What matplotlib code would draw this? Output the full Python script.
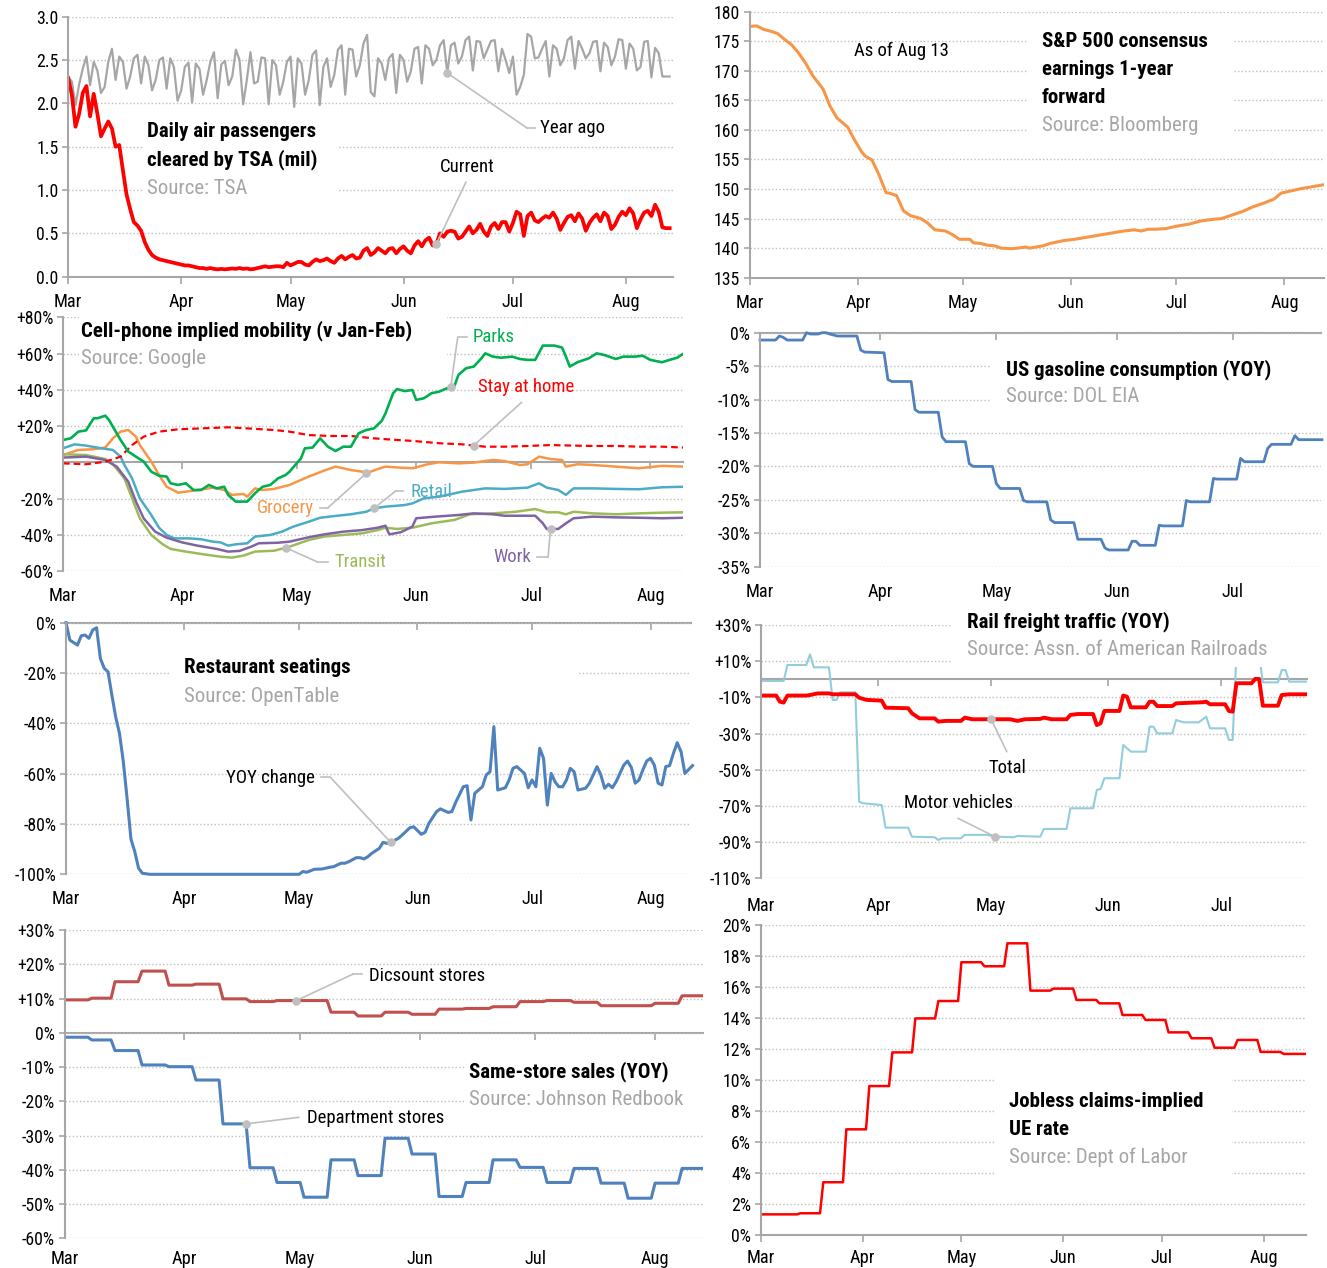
import matplotlib
matplotlib.use("Agg")
import matplotlib.pyplot as plt
import numpy as np
from matplotlib import font_manager as fm
from matplotlib.patches import Rectangle
from matplotlib.lines import Line2D

# ---------------- data (x = days since Mar 1) ----------------
MONTHS = ["Mar", "Apr", "May", "Jun", "Jul", "Aug"]
MONTH_START = [0, 31, 61, 92, 122, 153]

# TSA daily passengers (mil), Mar 1 .. Aug 13
tsa_current = [
    2.29, 2.10, 1.73, 1.88, 2.12, 2.20, 1.85, 2.11, 1.88, 1.62,
    1.71, 1.79, 1.71, 1.50, 1.52, 1.23, 0.95, 0.78, 0.63, 0.59,
    0.53, 0.40, 0.31, 0.25, 0.22, 0.20, 0.19, 0.18, 0.17, 0.16,
    0.15, 0.14, 0.13, 0.13, 0.12, 0.11, 0.10, 0.10, 0.09, 0.10,
    0.09, 0.085, 0.09, 0.085, 0.09, 0.095, 0.09, 0.10, 0.09, 0.095,
    0.085, 0.09, 0.10, 0.11, 0.12, 0.11, 0.115, 0.12, 0.12, 0.11,
    0.16, 0.13, 0.15, 0.17, 0.17, 0.14, 0.13, 0.17, 0.20, 0.18,
    0.19, 0.21, 0.18, 0.16, 0.21, 0.24, 0.20, 0.23, 0.25, 0.21,
    0.22, 0.30, 0.33, 0.25, 0.28, 0.33, 0.30, 0.27, 0.32, 0.33,
    0.27, 0.32, 0.35, 0.30, 0.27, 0.36, 0.41, 0.35, 0.42, 0.45,
    0.36, 0.38, 0.50, 0.46, 0.52, 0.53, 0.52, 0.44, 0.46, 0.52,
    0.58, 0.50, 0.54, 0.61, 0.52, 0.47, 0.58, 0.62, 0.55, 0.63,
    0.63, 0.52, 0.62, 0.75, 0.72, 0.47, 0.70, 0.74, 0.65, 0.63,
    0.67, 0.70, 0.68, 0.74, 0.67, 0.54, 0.62, 0.69, 0.71, 0.64,
    0.73, 0.67, 0.53, 0.62, 0.68, 0.72, 0.64, 0.74, 0.70, 0.55,
    0.60, 0.69, 0.75, 0.71, 0.79, 0.73, 0.56, 0.66, 0.74, 0.76,
    0.70, 0.83, 0.75, 0.57, 0.56, 0.56,
]
tsa_year_ago = [
    2.31, 2.25, 1.98, 2.22, 2.40, 2.54, 2.21, 2.48, 2.38, 2.12,
    2.19, 2.48, 2.63, 2.27, 2.54, 2.48, 2.17, 2.31, 2.52, 2.56,
    2.23, 2.54, 2.44, 2.15, 2.27, 2.50, 2.53, 2.17, 2.52, 2.42,
    2.03, 2.15, 2.42, 2.47, 2.01, 2.46, 2.40, 2.10, 2.27, 2.48,
    2.59, 2.06, 2.45, 2.49, 2.21, 2.31, 2.62, 2.50, 1.99, 2.27,
    2.59, 2.23, 2.25, 2.53, 2.52, 1.99, 2.50, 2.44, 2.10, 2.25,
    2.48, 2.54, 1.96, 2.52, 2.46, 2.10, 2.27, 2.56, 2.61, 1.98,
    2.42, 2.52, 2.19, 2.33, 2.62, 2.67, 2.10, 2.63, 2.62, 2.31,
    2.44, 2.69, 2.79, 2.13, 2.08, 2.52, 2.46, 2.27, 2.52, 2.57,
    2.12, 2.56, 2.50, 2.25, 2.37, 2.63, 2.65, 2.23, 2.67, 2.63,
    2.44, 2.50, 2.67, 2.73, 2.35, 2.67, 2.70, 2.46, 2.54, 2.73,
    2.77, 2.38, 2.72, 2.71, 2.52, 2.62, 2.72, 2.73, 2.37, 2.63,
    2.50, 2.35, 2.54, 2.10, 2.19, 2.33, 2.80, 2.77, 2.52, 2.53,
    2.63, 2.72, 2.31, 2.67, 2.63, 2.44, 2.52, 2.73, 2.77, 2.40,
    2.72, 2.63, 2.52, 2.58, 2.71, 2.72, 2.37, 2.70, 2.65, 2.44,
    2.54, 2.74, 2.73, 2.40, 2.69, 2.63, 2.38, 2.42, 2.71, 2.72,
    2.30, 2.64, 2.58, 2.31, 2.31, 2.31,
]
tsa_days = list(range(len(tsa_current)))

# S&P 500 consensus forward EPS
sp_days = [0, 2, 4, 6, 8, 10, 12, 14, 16, 18, 21, 23, 25, 28, 30, 32, 33, 35, 37, 39,
           40, 42, 44, 46, 49, 51, 53, 56, 58, 60, 63, 64, 66, 68, 70, 72, 75, 78, 79, 80,
           84, 86, 90, 93, 96, 98, 100, 104, 107, 110, 112, 114, 116, 119, 122, 126, 129,
           133, 135, 138, 141, 144, 147, 150, 152, 155, 158, 161, 164]
sp_eps = [177.5, 177.6, 177.0, 176.7, 176.3, 175.3, 174.4, 173.0, 171.3, 169.2,
          166.9, 164.0, 162.0, 160.5, 158.3, 156.3, 155.6, 154.9, 152.4, 149.4,
          149.3, 148.9, 146.3, 145.5, 145.0, 144.2, 143.1, 142.9, 142.3, 141.5,
          141.5, 140.9, 140.8, 140.5, 140.4, 140.0, 139.9, 140.1, 140.2, 140.0,
          140.4, 140.8, 141.3, 141.5, 141.8, 142.0, 142.2, 142.6, 142.9, 143.1,
          142.9, 143.2, 143.2, 143.3, 143.7, 144.1, 144.6, 144.9, 145.0, 145.6,
          146.2, 147.0, 147.6, 148.3, 149.3, 149.7, 150.1, 150.4, 150.7]

# Google mobility (% vs Jan-Feb)
parks_days = [0, 2, 4, 6, 8, 9, 11, 12, 15, 17, 19, 21, 23, 25, 27, 28, 30, 32, 34, 36,
              38, 40, 42, 43, 45, 48, 50, 52, 54, 56, 58, 59, 62, 63, 65, 67, 69, 71, 73, 75,
              77, 79, 81, 83, 84, 86, 87, 89, 91, 92, 94, 96, 98, 100, 102, 103, 105, 107, 109, 110,
              112, 114, 117, 119, 121, 123, 125, 128, 130, 131, 132, 134, 137, 139, 141, 144, 146, 149, 151, 153,
              156, 158, 160, 162]
parks = [12.3, 13.2, 16.9, 17.6, 24.3, 24.3, 25.7, 23.3, 12.3, 5.9, 3.1, 0.4, -5.2, -7.4, -7.9, -11.6, -12.5, -11.6, -15.3, -15.3,
         -12.5, -14.4, -13.5, -18.0, -21.7, -21.7, -17.1, -13.5, -12.5, -8.9, -7.0, -5.2, 2.2, 7.7, 8.1, 13.2, 8.6, 6.2, 8.6, 8.6,
         16.0, 17.8, 18.7, 22.8, 27.0, 38.1, 40.4, 39.3, 39.9, 34.4, 35.3, 38.1, 39.0, 40.8, 42.3, 48.2, 51.9, 52.8, 57.4, 60.1,
         58.3, 57.7, 58.3, 57.0, 56.5, 56.5, 64.4, 64.4, 63.3, 58.3, 52.8, 55.2, 57.4, 60.1, 59.2, 57.0, 58.3, 58.3, 58.8, 56.5,
         55.2, 56.5, 57.7, 60.5]
stay_days = [0, 6, 11, 15, 18, 21, 25, 30, 36, 43, 48, 55, 59, 64, 70, 75, 81, 87, 91, 98,
             104, 110, 115, 121, 127, 133, 138, 144, 150, 156, 162]
stay_home = [-0.6, -1.1, 0.3, 3.1, 9.5, 14.1, 16.9, 18.2, 18.7, 19.3, 18.7, 17.8, 16.9, 15.0, 14.5, 14.5,
             13.2, 12.3, 11.8, 10.5, 9.9, 8.6, 8.6, 9.0, 9.5, 9.2, 9.0, 9.0, 8.6, 8.6, 8.1]
grocery_days = [0, 4, 8, 11, 13, 15, 17, 19, 20, 23, 25, 27, 30, 32, 35, 39, 42, 44, 47, 48,
                50, 52, 55, 59, 64, 68, 71, 73, 75, 78, 79, 82, 84, 88, 91, 95, 98, 103, 107, 112,
                115, 119, 121, 124, 127, 130, 131, 134, 138, 144, 150, 156, 162]
grocery = [4.0, 6.8, 7.2, 8.1, 13.2, 16.9, 17.8, 14.1, 9.5, 0.4, -7.0, -13.5, -16.8, -16.2, -15.3, -14.0, -15.3, -18.0, -17.5, -19.0,
           -14.4, -15.3, -14.7, -12.5, -7.9, -4.6, -2.4, -3.3, -4.3, -5.2, -6.1, -3.7, -2.4, -3.0, -3.3, -1.1, 0.0, -0.6, -0.2, 1.3,
           0.7, -1.5, -1.1, 3.1, 1.8, 1.3, -2.4, -1.1, -1.5, -2.4, -3.3, -2.0, -2.4]
retail_days = [0, 3, 6, 10, 13, 15, 16, 18, 20, 23, 25, 27, 29, 33, 36, 39, 41, 43, 45, 48,
               50, 54, 57, 60, 64, 67, 71, 75, 79, 81, 84, 89, 91, 94, 98, 104, 110, 115, 121, 124,
               126, 129, 131, 133, 138, 144, 150, 156, 162]
retail = [7.7, 9.9, 9.2, 7.7, 6.8, 3.1, -1.5, -8.9, -19.9, -29.1, -36.1, -40.1, -42.0, -42.0, -42.5, -43.8, -44.2, -46.0, -45.3, -44.7,
          -41.0, -40.1, -38.3, -35.5, -32.8, -30.6, -29.6, -28.7, -27.3, -25.4, -24.5, -23.6, -22.7, -19.9, -19.0, -16.2, -14.4, -14.7, -14.0, -11.6,
          -14.0, -15.3, -18.0, -14.4, -14.4, -14.7, -14.9, -13.8, -13.5]
transit_days = [0, 6, 11, 13, 16, 18, 20, 23, 26, 28, 32, 36, 41, 44, 47, 50, 55, 59, 64, 68,
                73, 78, 82, 84, 87, 91, 96, 102, 106, 112, 118, 123, 126, 129, 131, 133, 138, 144, 150, 156, 162]
transit = [4.4, 4.0, 1.8, -1.1, -8.9, -19.9, -30.9, -40.1, -45.3, -47.8, -49.3, -50.6, -52.1, -52.6, -51.5, -49.3, -48.8, -46.6, -42.9, -41.0,
           -40.1, -39.2, -37.4, -36.1, -36.8, -36.1, -33.7, -31.8, -28.7, -28.2, -27.3, -25.8, -27.6, -27.6, -28.7, -27.3, -28.2, -28.7, -28.2, -27.8, -27.6]
work_days = [0, 6, 11, 14, 17, 19, 21, 24, 27, 31, 35, 40, 43, 46, 49, 51, 56, 59, 64, 68,
             73, 78, 82, 84, 85, 88, 91, 92, 97, 103, 107, 112, 115, 120, 123, 125, 126, 129, 131, 133,
             138, 144, 150, 156, 162]
work = [2.6, 3.1, 1.3, -2.4, -10.7, -21.7, -30.9, -38.3, -41.6, -44.2, -46.0, -47.8, -49.3, -48.9, -46.6, -44.7, -44.4, -43.8, -41.4, -39.8,
        -38.3, -37.4, -36.1, -35.0, -39.8, -38.6, -35.5, -30.9, -30.0, -29.1, -28.2, -28.7, -29.5, -29.5, -29.5, -33.7, -36.8, -36.8, -33.7, -30.9,
        -30.0, -30.4, -30.6, -30.9, -30.6]

# US gasoline consumption YOY %
gas_days = [0, 4, 5, 6, 7, 11, 12, 13, 15, 16, 17, 18, 20, 25, 26, 27, 32, 33, 34, 39,
            40, 41, 46, 47, 48, 53, 54, 55, 60, 61, 62, 67, 68, 69, 74, 75, 76, 81, 82, 88,
            89, 90, 95, 96, 97, 98, 102, 103, 104, 109, 110, 111, 116, 117, 118, 123, 124, 125, 130, 131,
            132, 137, 138, 139, 145]
gas_yoy = [-1.1, -1.1, -0.5, -0.7, -1.1, -1.1, 0.0, -0.2, -0.2, 0.0, 0.0, -0.2, -0.5, -0.5, -2.6, -2.9, -3.0, -7.0, -7.3, -7.3,
           -11.5, -11.9, -11.9, -15.6, -16.3, -16.3, -19.6, -20.0, -20.0, -22.6, -23.3, -23.3, -25.1, -25.3, -25.3, -28.0, -28.4, -28.4, -30.9, -30.9,
           -32.2, -32.5, -32.5, -31.2, -31.2, -31.8, -31.8, -28.8, -28.9, -28.9, -25.1, -25.3, -25.3, -21.8, -21.9, -21.9, -18.8, -19.3, -19.3, -17.3,
           -16.7, -16.7, -15.4, -16.0, -16.0]

# OpenTable restaurant seatings YOY %
rest_days = [0, 1, 3, 4, 5, 6, 7, 8, 9, 10, 11, 12, 13, 14, 15, 16, 17, 18, 19, 20,
             22, 61, 62, 63, 65, 67, 69, 70, 72, 73, 74, 76, 77, 78, 79, 80, 82, 83, 84, 85,
             87, 88, 90, 91, 93, 94, 95, 97, 98, 100, 101, 102, 104, 105, 106, 107, 108, 109, 110, 111,
             112, 113, 115, 116, 117, 118, 120, 121, 122, 123, 124, 125, 126, 127, 128, 129, 130, 131, 132, 133,
             134, 136, 137, 139, 140, 141, 142, 143, 144, 146, 147, 148, 149, 150, 151, 152, 153, 154, 155, 156,
             157, 158, 159, 160, 161, 162, 164]
rest_yoy = [0.0, -6.9, -8.9, -5.2, -4.9, -6.2, -2.9, -2.0, -14.2, -18.1, -19.5, -28.7, -37.4, -44.0, -55.2, -70.0, -86.0, -91.0, -97.6, -99.6,
            -100.0, -100.0, -98.9, -99.2, -98.0, -97.9, -97.2, -97.0, -95.6, -95.6, -95.0, -93.4, -93.4, -93.9, -93.0, -91.7, -89.7, -87.3, -87.7, -87.3,
            -85.7, -84.4, -81.5, -81.1, -84.1, -83.3, -79.7, -75.1, -74.0, -75.4, -75.1, -71.4, -65.2, -64.8, -78.4, -67.8, -66.5, -65.2, -60.5, -59.2,
            -41.3, -66.5, -65.6, -62.5, -57.9, -57.2, -59.9, -65.6, -62.5, -65.2, -49.9, -53.9, -72.5, -59.9, -63.2, -65.2, -65.2, -62.5, -57.9, -59.2,
            -66.5, -65.8, -63.8, -57.2, -60.5, -65.8, -64.2, -65.6, -63.2, -56.6, -55.0, -57.6, -63.8, -62.5, -58.5, -55.0, -53.9, -56.6, -63.8, -64.5,
            -57.2, -56.8, -51.9, -47.7, -51.3, -59.9, -56.8]

# Rail freight YOY %
rail_total_days = [0, 4, 5, 6, 7, 12, 13, 15, 18, 19, 25, 26, 28, 32, 33, 39, 40, 42, 46, 47,
                   49, 53, 54, 56, 66, 68, 70, 74, 75, 77, 81, 82, 84, 88, 89, 90, 91, 95, 96, 97,
                   98, 102, 103, 104, 105, 109, 110, 117, 118, 119, 123, 124, 125, 126, 130, 131, 132, 133, 137, 138,
                   140, 145]
rail_total = [-9.0, -9.0, -12.4, -12.9, -9.0, -9.0, -8.7, -7.8, -7.8, -8.3, -8.3, -10.2, -11.4, -11.8, -15.7, -16.0, -18.8, -21.6, -21.6, -23.4,
              -23.0, -23.0, -21.2, -22.1, -22.1, -23.0, -22.1, -21.9, -21.2, -22.1, -22.1, -19.7, -19.2, -19.2, -25.3, -24.3, -17.5, -17.5, -9.0, -9.6,
              -15.5, -15.5, -12.4, -12.4, -14.8, -14.8, -13.3, -12.7, -12.4, -13.8, -13.8, -17.5, -17.9, -2.2, -2.2, 0.2, 0.2, -14.6, -14.6, -8.7,
              -8.3, -8.3]
rail_motor_days = [0, 6, 7, 12, 13, 14, 18, 19, 20, 21, 25, 26, 27, 32, 33, 39, 40, 46, 47, 48,
                   53, 54, 60, 62, 67, 68, 74, 75, 81, 82, 88, 89, 90, 91, 95, 96, 98, 102, 103, 104,
                   105, 109, 110, 112, 116, 118, 119, 123, 124, 125, 126, 132, 133, 137, 138, 139, 140, 145]
rail_motor = [-0.9, -0.9, 7.9, 7.9, 13.8, 6.6, 6.6, -11.4, -11.4, -7.2, -7.2, -67.6, -68.5, -69.5, -82.0, -82.0, -87.0, -87.3, -88.8, -87.9,
              -87.9, -86.0, -86.0, -87.0, -87.3, -86.6, -87.0, -82.7, -82.7, -71.3, -71.3, -61.2, -60.6, -54.7, -54.7, -36.3, -40.0, -40.0, -26.2, -26.2,
              -29.9, -29.9, -22.5, -23.8, -23.8, -20.7, -27.1, -27.1, -33.5, -33.5, 14.0, 14.0, -1.7, -1.7, 5.1, 5.1, -1.3, -1.3]

# Johnson Redbook same-store sales YOY %
disc_days = [0, 6, 7, 12, 13, 19, 20, 26, 27, 33, 34, 40, 41, 47, 48, 54, 55, 68, 69, 75, 76, 82,
             83, 89, 90, 96, 97, 103, 104, 110, 111, 117, 118, 124, 125, 131, 132, 138, 139, 152, 153, 159, 160, 166]
discount = [9.6, 9.6, 10.1, 10.1, 14.9, 14.9, 18.0, 18.0, 13.9, 13.9, 14.2, 14.2, 9.9, 9.9, 9.1, 9.1, 9.4, 9.4, 6.0, 6.0, 4.9, 4.9,
            6.0, 6.0, 5.4, 5.4, 6.9, 6.9, 7.1, 7.1, 7.6, 7.6, 9.1, 9.1, 9.4, 9.4, 8.9, 8.9, 7.9, 7.9, 8.6, 8.6, 10.8, 10.8]
dept_days = [0, 6, 7, 12, 13, 19, 20, 26, 27, 33, 34, 40, 41, 47, 48, 54, 55, 61, 62, 68, 69, 75, 76, 82,
             83, 89, 90, 96, 97, 103, 104, 110, 111, 117, 118, 124, 125, 131, 132, 138, 139, 145, 146, 152, 153, 159, 160, 166]
department = [-1.3, -1.3, -2.1, -2.1, -5.2, -5.2, -9.4, -9.4, -9.9, -9.9, -13.8, -13.8, -26.6, -26.6, -39.4, -39.4, -43.7, -43.7,
              -48.0, -48.0, -37.1, -37.1, -41.7, -41.7, -30.8, -30.8, -35.4, -35.4, -47.8, -47.8, -43.7, -43.7, -37.1, -37.1,
              -39.3, -39.3, -43.7, -43.7, -39.6, -39.6, -43.9, -43.9, -48.3, -48.3, -43.9, -43.9, -39.6, -39.6]

# Jobless claims-implied UE rate %
ue_days = [0, 11, 12, 18, 19, 25, 26, 32, 33, 39, 40, 46, 47, 53, 54, 60, 61, 67, 68, 74, 75, 81, 82,
           88, 89, 95, 96, 102, 103, 109, 110, 116, 117, 123, 124, 130, 131, 137, 138, 144, 145, 151, 152, 158, 159, 166]
ue_rate = [1.35, 1.35, 1.42, 1.42, 3.42, 3.42, 6.83, 6.83, 9.62, 9.62, 11.79, 11.79, 13.98, 13.98, 15.10, 15.10, 17.60, 17.60,
           17.34, 17.34, 18.82, 18.82, 15.77, 15.77, 15.90, 15.90, 15.17, 15.17, 14.95, 14.95, 14.20, 14.20, 13.88, 13.88,
           13.08, 13.08, 12.70, 12.70, 12.09, 12.09, 12.59, 12.59, 11.82, 11.82, 11.69, 11.69]

# ---------------- style ----------------
names = {f.name for f in fm.fontManager.ttflist}
files = " ".join(f.fname for f in fm.fontManager.ttflist)
STRETCH = "normal"
SCALE = 1.0
if "Roboto Condensed" in names:
    FAMILY = "Roboto Condensed"
elif "Liberation Sans Narrow" in names:
    FAMILY = "Liberation Sans Narrow"
elif "Open Sans Condensed" in names:
    FAMILY = "Open Sans Condensed"
elif "DejaVuSansCondensed" in files:
    FAMILY, STRETCH, SCALE = "DejaVu Sans", "condensed", 0.85
else:
    FAMILY, SCALE = "DejaVu Sans", 0.78
plt.rcParams["font.family"] = [FAMILY, "DejaVu Sans"]
plt.rcParams["font.stretch"] = STRETCH

RED = "#FF0000"
GREY_LINE = "#A6A6A6"
ORANGE = "#F79646"
GREEN = "#00B050"
TEAL = "#4BACC6"
OLIVE = "#9BBB59"
PURPLE = "#8064A2"
BLUE = "#4F81BD"
LIGHTBLUE = "#92CDDC"
BRICK = "#C0504D"
SRC = "#A6A6A6"
AXC = "#A6A6A6"
GRID = "#BFBFBF"
LEAD = "#BFBFBF"

FS_TITLE = 15 * SCALE
FS_TICK = 12.8 * SCALE
FS_MONTH = 13.2 * SCALE
FS_LABEL = 13.5 * SCALE

W, H = 1327, 1268
fig = plt.figure(figsize=(W / 100, H / 100), dpi=100)


def fp(x, y):
    return x / W, 1 - y / H


def panel(left, right, top, bottom, xmax, ylim, yticks, ylabels, base=0, mpad=11.5):
    ax = fig.add_axes([left / W, 1 - bottom / H, (right - left) / W, (bottom - top) / H])
    ax.set_xlim(0, xmax)
    ax.set_ylim(*ylim)
    ax.set_yticks(yticks, ylabels)
    mt = [d for d in MONTH_START if d <= xmax]
    ax.set_xticks(mt, MONTHS[:len(mt)])
    ax.tick_params(axis="x", length=0, pad=mpad, labelsize=FS_MONTH)
    ax.tick_params(axis="y", length=4, width=1.2, color=AXC, labelsize=FS_TICK, pad=3)
    for s in ["top", "right", "bottom"]:
        ax.spines[s].set_visible(False)
    ax.spines["left"].set_color(AXC)
    ax.spines["left"].set_linewidth(1.5)
    ax.grid(axis="y", linestyle=(0, (1, 1.6)), color=GRID, lw=1)
    ax.set_axisbelow(True)
    frac = (base - ylim[0]) / (ylim[1] - ylim[0])
    sec = ax.secondary_xaxis(frac)
    sec.set_alignment("bottom")
    sec.set_xticks(mt)
    sec.tick_params(axis="x", length=5, width=1.2, color=AXC, labelbottom=False, labeltop=False)
    sec.spines["bottom"].set_color(AXC)
    sec.spines["bottom"].set_linewidth(1.5)
    return ax


def box(ax, x0, y0, x1, y1):
    ax.add_patch(Rectangle((x0 / W, 1 - y1 / H), (x1 - x0) / W, (y1 - y0) / H,
                           transform=fig.transFigure, facecolor="white", edgecolor="none", zorder=2.5))


def title(ax, x, y0, lines, source, step=28):
    for i, s in enumerate(lines):
        ax.text(*fp(x, y0 + i * step), s, transform=fig.transFigure, fontsize=FS_TITLE,
                fontweight="bold", va="baseline", ha="left", zorder=3)
    ax.text(*fp(x, y0 + len(lines) * step), source, transform=fig.transFigure, fontsize=FS_TITLE,
            color=SRC, va="baseline", ha="left", zorder=3)


def label(ax, x, y, s, color="black", ha="left"):
    ax.text(*fp(x, y), s, transform=fig.transFigure, fontsize=FS_LABEL, color=color,
            ha=ha, va="center", zorder=3)


def leader(ax, day, days, vals, pts):
    val = float(np.interp(day, days, vals))
    ax.annotate("", xy=(day, val), xycoords="data", xytext=fp(*pts[0]), textcoords="figure fraction",
                arrowprops=dict(arrowstyle="-", color=LEAD, lw=1.2, shrinkA=0, shrinkB=0), zorder=4)
    if len(pts) > 1:
        ax.add_line(Line2D([p[0] / W for p in pts], [1 - p[1] / H for p in pts], transform=fig.transFigure,
                           color=LEAD, lw=1.2, clip_on=False, zorder=4))
    ax.scatter([day], [val], s=38, color=LEAD, zorder=5, clip_on=False, linewidths=0)


def pct(v, plus=False):
    return ("+" if plus and v > 0 else "") + f"{v}%"


# ---- 1. TSA ----
tsa_ticks = [0, 0.5, 1.0, 1.5, 2.0, 2.5, 3.0]
ax = panel(68.2, 673.3, 16.7, 276.7, 166, (0, 3), tsa_ticks, [f"{t:.1f}" for t in tsa_ticks])
ax.plot(tsa_days, tsa_year_ago, color=GREY_LINE, lw=1.6)
ax.plot(tsa_days, tsa_current, color=RED, lw=2.7)
box(ax, 143, 108, 339, 200)
title(ax, 147, 137, ["Daily air passengers", "cleared by TSA (mil)"], "Source: TSA", step=28.3)
leader(ax, 104, tsa_days, tsa_year_ago, [(527, 128), (535, 128)])
label(ax, 540, 128, "Year ago")
leader(ax, 101, tsa_days, tsa_current, [(466, 182)])
label(ax, 467, 167, "Current", ha="center")

# ---- 2. S&P 500 ----
sp_ticks = list(range(135, 181, 5))
ax = panel(749.7, 1323.6, 11.7, 277.7, 164.2, (135, 180), sp_ticks, [str(t) for t in sp_ticks], base=135)
ax.plot(sp_days, sp_eps, color=ORANGE, lw=2.2)
box(ax, 1028, 18, 1234, 145)
title(ax, 1042, 47.3, ["S&P 500 consensus", "earnings 1-year", "forward"], "Source: Bloomberg", step=27.9)
ax.text(*fp(854.5, 55.7), "As of Aug 13", transform=fig.transFigure, fontsize=FS_LABEL, va="baseline")

# ---- 3. Mobility ----
mob_ticks = [80, 60, 40, 20, -20, -40, -60]
ax = panel(63, 683, 317.3, 571, 161.5, (-60, 80), mob_ticks, [pct(t, True) for t in mob_ticks])
ax.plot(grocery_days, grocery, color=ORANGE, lw=1.8)
ax.plot(retail_days, retail, color=TEAL, lw=1.8)
ax.plot(transit_days, transit, color=OLIVE, lw=1.8)
ax.plot(work_days, work, color=PURPLE, lw=1.8)
ax.plot(stay_days, stay_home, color=RED, lw=1.6, linestyle=(0, (3, 1.8)))
ax.plot(parks_days, parks, color=GREEN, lw=1.9)
box(ax, 79, 311, 447, 372)
title(ax, 81.4, 336.7, ["Cell-phone implied mobility (v Jan-Feb)"], "Source: Google", step=27.6)
leader(ax, 101, parks_days, parks, [(457.7, 337.3), (466.5, 337.3)])
label(ax, 473, 337.3, "Parks", GREEN)
leader(ax, 107, stay_days, stay_home, [(521.6, 402.3)])
label(ax, 477.5, 386.7, "Stay at home", RED)
leader(ax, 79, grocery_days, grocery, [(327.9, 507.7), (320.4, 507.7)])
label(ax, 314, 508.3, "Grocery", ORANGE, ha="right")
leader(ax, 81, retail_days, retail, [(396, 490.7), (402.7, 490.7)])
label(ax, 410, 491.7, "Retail", TEAL)
leader(ax, 58, transit_days, transit, [(316.9, 561.7), (327.9, 561.7)])
label(ax, 334.5, 561.7, "Transit", OLIVE)
leader(ax, 127, work_days, work, [(548, 557.3), (537, 557.3)])
label(ax, 531, 557.3, "Work", PURPLE, ha="right")

# ---- 4. Gasoline ----
gas_ticks = [0, -5, -10, -15, -20, -25, -30, -35]
ax = panel(760, 1320.8, 332.7, 566.7, 144.7, (-35, 0), gas_ticks, [pct(t) for t in gas_ticks])
ax.plot(gas_days, gas_yoy, color=BLUE, lw=2.0, clip_on=False)
box(ax, 990, 345, 1321, 412)
title(ax, 1006, 375, ["US gasoline consumption (YOY)"], "Source: DOL EIA", step=27.3)

# ---- 5. Restaurants ----
rest_ticks = [0, -20, -40, -60, -80, -100]
ax = panel(66, 691, 622.7, 874.3, 163.6, (-100, 0), rest_ticks, [pct(t) for t in rest_ticks])
ax.plot(rest_days, rest_yoy, color=BLUE, lw=2.2, clip_on=False)
box(ax, 170, 648, 579, 712)
title(ax, 184.4, 673.3, ["Restaurant seatings"], "Source: OpenTable", step=28.4)
leader(ax, 85, rest_days, rest_yoy, [(330.4, 777.3), (321.4, 777.3)])
label(ax, 315, 778.3, "YOY change", ha="right")

# ---- 6. Rail ----
rail_ticks = [30, 10, -10, -30, -50, -70, -90, -110]
ax = panel(761, 1306.6, 625, 878.3, 144.6, (-110, 30), rail_ticks, [pct(t, True) for t in rail_ticks], mpad=13.5)
ax.plot(rail_motor_days, rail_motor, color=LIGHTBLUE, lw=1.5)
ax.plot(rail_total_days, rail_total, color=RED, lw=2.8)
box(ax, 952, 600, 1307, 667)
title(ax, 967.4, 627.7, ["Rail freight traffic (YOY)"], "Source: Assn. of American Railroads", step=27.3)
leader(ax, 61, rail_total_days, rail_total, [(1006.8, 751.7)])
label(ax, 1007.6, 767.7, "Total", ha="center")
leader(ax, 62, rail_motor_days, rail_motor, [(958, 818.3)])
label(ax, 958, 803.3, "Motor vehicles", ha="center")

# ---- 7. Same-store sales ----
ss_ticks = [30, 20, 10, 0, -10, -20, -30, -40, -50, -60]
ax = panel(64.8, 703.3, 930, 1238.3, 165.5, (-60, 30), ss_ticks, [pct(t, True) for t in ss_ticks], mpad=8.5)
ax.plot(disc_days, discount, color=BRICK, lw=2.2)
ax.plot(dept_days, department, color=BLUE, lw=2.2)
box(ax, 466, 1055, 704, 1112)
title(ax, 468.8, 1077.3, ["Same-store sales (YOY)"], "Source: Johnson Redbook", step=27.7)
leader(ax, 60, disc_days, discount, [(353.3, 974), (362.3, 974)])
label(ax, 369, 975.7, "Dicsount stores")
leader(ax, 47, dept_days, department, [(298.9, 1117.3)])
label(ax, 307, 1118.3, "Department stores")

# ---- 8. Jobless claims ----
ue_ticks = list(range(0, 21, 2))
ax = panel(760.8, 1306, 925, 1235.3, 165.8, (0, 20), ue_ticks, [pct(t) for t in ue_ticks], mpad=10)
ax.plot(ue_days, ue_rate, color=RED, lw=1.8)
box(ax, 994, 1075, 1232, 1180)
title(ax, 1009.2, 1106.7, ["Jobless claims-implied", "UE rate"], "Source: Dept of Labor", step=28)

fig.savefig("out.png", dpi=100)
